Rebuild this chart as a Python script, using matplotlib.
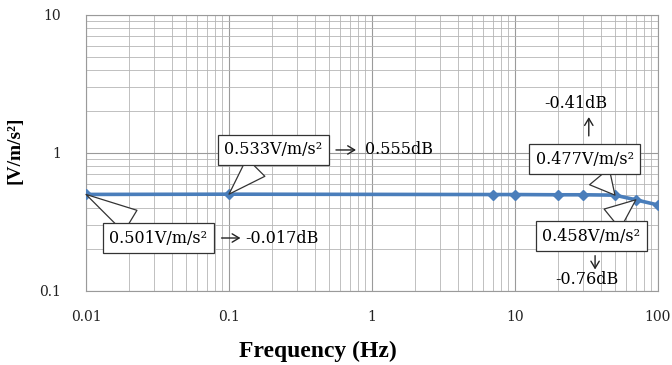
import matplotlib
matplotlib.use("Agg")
import matplotlib.pyplot as plt
from matplotlib.ticker import LogLocator, FixedLocator, NullFormatter

freq = [0.01, 0.1, 7, 10, 20, 30, 50, 70, 100]
sens = [0.501, 0.503, 0.500, 0.500, 0.498, 0.498, 0.495, 0.458, 0.42]
xticks = [0.01, 0.1, 1, 10, 100]
xticklabels = ["0.01", "0.1", "1", "10", "100"]
yticks = [0.1, 1, 10]
yticklabels = ["0.1", "1", "10"]

callouts = [
    # label, point index, box center (axes frac), dB text, dB pos, dB ha, arrow from, arrow to
    ("0.501V/m/s²", 0, (0.126, 0.192), "-0.017dB", (0.278, 0.192), "left", (0.237, 0.192), (0.270, 0.192)),
    ("0.533V/m/s²", 1, (0.327, 0.511), "0.555dB", (0.487, 0.511), "left", (0.437, 0.511), (0.472, 0.511)),
    ("0.477V/m/s²", 6, (0.872, 0.478), "-0.41dB", (0.857, 0.678), "center", (0.879, 0.562), (0.879, 0.630)),
    ("0.458V/m/s²", 7, (0.883, 0.199), "-0.76dB", (0.876, 0.040), "center", (0.890, 0.128), (0.890, 0.078)),
]

serif = ["DejaVu Serif"]
fig = plt.figure(figsize=(6.72, 3.65), dpi=100)
ax = fig.add_axes([86 / 672, 1 - 291 / 365, 572 / 672, 276 / 365])
ax.set_xscale("log")
ax.set_yscale("log")
ax.set_xlim(0.01, 100)
ax.set_ylim(0.1, 10)

ax.xaxis.set_major_locator(FixedLocator(xticks))
ax.yaxis.set_major_locator(FixedLocator(yticks))
ax.xaxis.set_minor_locator(LogLocator(base=10, subs=range(2, 10)))
ax.yaxis.set_minor_locator(LogLocator(base=10, subs=range(2, 10)))
ax.xaxis.set_minor_formatter(NullFormatter())
ax.yaxis.set_minor_formatter(NullFormatter())
ax.set_xticklabels(xticklabels, family=serif, fontsize=10, color="#222222")
ax.set_yticklabels(yticklabels, family=serif, fontsize=10, color="#222222")
ax.tick_params(which="both", length=0, pad=14)
ax.tick_params(axis="y", pad=18)
ax.grid(True, which="major", color="#9a9a9a", lw=0.8)
ax.grid(True, which="minor", color="#b5b5b5", lw=0.6)
for s in ax.spines.values():
    s.set_color("#9a9a9a")
    s.set_linewidth(0.8)
ax.set_axisbelow(True)

ax.plot(freq, sens, color="#4a7ebb", lw=2.6, marker="D", ms=5, mfc="#4a7ebb", mec="#4a7ebb", zorder=3)

for label, idx, bpos, dbt, dbpos, dbha, a0, a1 in callouts:
    ax.annotate(label, xy=(freq[idx], sens[idx]), xycoords="data",
                xytext=bpos, textcoords="axes fraction", ha="center", va="center",
                family=serif, fontsize=11.5,
                bbox=dict(boxstyle="square,pad=0.4", fc="white", ec="#333333", lw=0.9),
                arrowprops=dict(arrowstyle="wedge,tail_width=1.6,shrink_factor=0.5",
                                fc="white", ec="#333333", lw=0.9, shrinkB=0),
                zorder=5)
    ax.text(dbpos[0], dbpos[1], dbt, transform=ax.transAxes, ha=dbha,
            va="center", family=serif, fontsize=11.5, zorder=5)
    ax.annotate("", xy=a1, xycoords="axes fraction", xytext=a0, textcoords="axes fraction",
                arrowprops=dict(arrowstyle="->,head_width=0.3,head_length=0.5", color="#222222",
                                lw=1.0, shrinkA=0, shrinkB=0))

fig.text(15 / 672, 1 - 150 / 365, "[V/m/s²]", rotation=90, ha="center", va="center",
         family=["Liberation Serif"], fontweight="bold", fontsize=14)
fig.text(318 / 672, 1 - 351 / 365, "Frequency (Hz)", ha="center", va="center",
         family=["Liberation Serif"], fontweight="bold", fontsize=17)

fig.savefig("out.png", dpi=100)
